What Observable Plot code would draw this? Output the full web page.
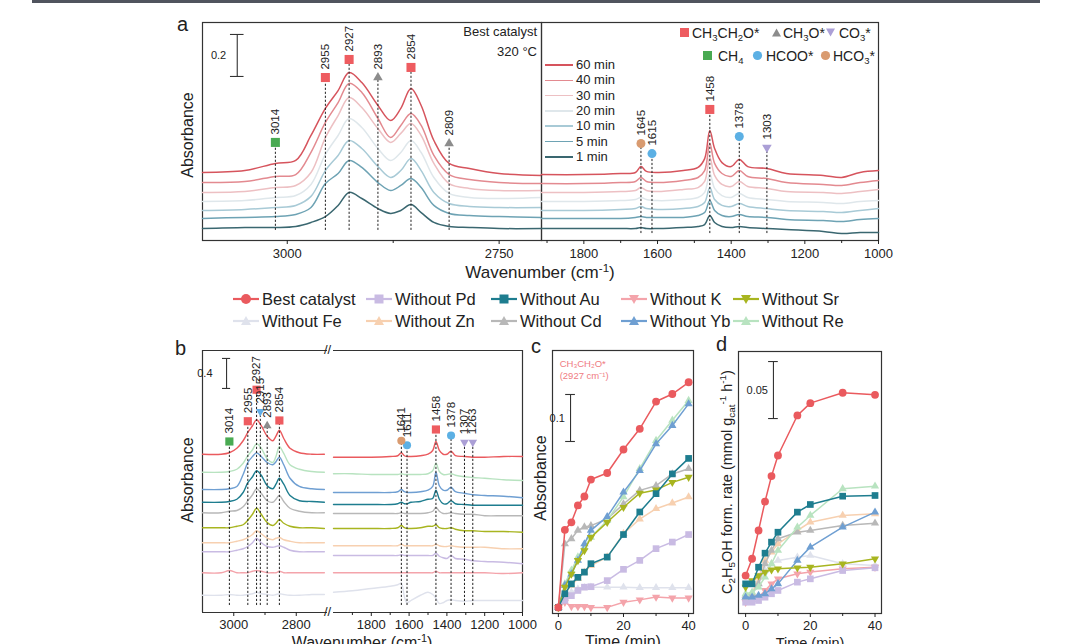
<!DOCTYPE html>
<html><head><meta charset="utf-8">
<script src="https://cdn.jsdelivr.net/npm/d3@7"></script>
<script src="https://cdn.jsdelivr.net/npm/@observablehq/plot@0.6"></script>
<style>
body{margin:0;background:#fff;font-family:"Liberation Sans",Arial,sans-serif;}
#root{position:relative;width:1080px;height:644px;overflow:hidden;background:#fff;}
.abs{position:absolute;white-space:nowrap;color:#222;line-height:1;}
sub{font-size:0.68em;vertical-align:-0.28em;line-height:0;}
sup{font-size:0.68em;vertical-align:0.55em;line-height:0;}
</style></head><body><div id="root"></div>
<script>
// ---------------- DATA ----------------
// Panel a: time series at 320 °C (best catalyst)
const timesA = ["60 min","40 min","30 min","20 min","10 min","5 min","1 min"];
const wnAL = [3100,3050,3014,2990,2972,2955,2940,2927,2912,2893,2878,2866,2854,2842,2827,2809,2785,2750,2700];
const aL60 = [0.324,0.333,0.367,0.381,0.500,0.629,0.714,0.800,0.752,0.643,0.571,0.629,0.724,0.643,0.476,0.367,0.343,0.319,0.310];
const aL40 = [0.276,0.281,0.305,0.314,0.420,0.562,0.657,0.748,0.705,0.581,0.490,0.548,0.605,0.548,0.405,0.314,0.290,0.276,0.271];
const aL30 = [0.229,0.233,0.252,0.262,0.324,0.490,0.595,0.681,0.633,0.533,0.467,0.510,0.557,0.500,0.367,0.271,0.248,0.238,0.238];
const aL20 = [0.186,0.190,0.205,0.214,0.267,0.410,0.500,0.581,0.538,0.438,0.381,0.419,0.476,0.419,0.300,0.224,0.205,0.200,0.205];
const aL10 = [0.143,0.148,0.157,0.167,0.210,0.333,0.405,0.476,0.438,0.352,0.300,0.333,0.390,0.333,0.229,0.176,0.162,0.157,0.157];
const aL5  = [0.105,0.110,0.114,0.124,0.157,0.271,0.319,0.381,0.348,0.276,0.238,0.262,0.295,0.252,0.167,0.129,0.119,0.114,0.110];
const aL1  = [0.057,0.062,0.062,0.067,0.086,0.114,0.167,0.229,0.200,0.152,0.129,0.143,0.171,0.133,0.086,0.067,0.062,0.057,0.057];
const wnAR = [1915,1800,1700,1660,1645,1630,1600,1530,1490,1472,1458,1445,1425,1400,1378,1355,1303,1250,1150,1100,1050,1000];
const aR60 = [0.314,0.314,0.319,0.324,0.352,0.329,0.324,0.333,0.348,0.390,0.524,0.438,0.371,0.352,0.386,0.352,0.343,0.319,0.310,0.300,0.324,0.333];
const aR40 = [0.271,0.271,0.276,0.281,0.300,0.281,0.276,0.286,0.300,0.333,0.462,0.367,0.319,0.305,0.333,0.305,0.295,0.276,0.267,0.262,0.276,0.286];
const aR30 = [0.229,0.229,0.233,0.238,0.252,0.238,0.233,0.243,0.252,0.281,0.395,0.310,0.267,0.257,0.281,0.257,0.248,0.233,0.229,0.224,0.233,0.243];
const aR20 = [0.186,0.186,0.190,0.195,0.205,0.195,0.190,0.195,0.205,0.229,0.319,0.248,0.214,0.205,0.224,0.205,0.195,0.186,0.181,0.176,0.186,0.190];
const aR10 = [0.143,0.143,0.148,0.152,0.162,0.152,0.148,0.152,0.162,0.181,0.252,0.195,0.167,0.162,0.176,0.162,0.152,0.143,0.138,0.133,0.143,0.152];
const aR5  = [0.105,0.105,0.105,0.110,0.114,0.110,0.110,0.110,0.119,0.133,0.190,0.143,0.119,0.114,0.124,0.114,0.110,0.100,0.095,0.090,0.100,0.105];
const aR1  = [0.057,0.057,0.057,0.057,0.062,0.057,0.057,0.062,0.067,0.076,0.119,0.086,0.067,0.062,0.067,0.062,0.057,0.052,0.043,0.033,0.038,0.038];
const peaksAL = [{wn:3014,sp:"CH4",level:0.467},{wn:2955,sp:"CH3CH2O",level:0.776},{wn:2927,sp:"CH3CH2O",level:0.862},{wn:2893,sp:"CH3O",level:0.776},{wn:2854,sp:"CH3CH2O",level:0.824},{wn:2809,sp:"CH3O",level:0.462}];
const peaksAR = [{wn:1645,sp:"HCO3",level:0.462},{wn:1615,sp:"HCOO",level:0.414},{wn:1458,sp:"CH3CH2O",level:0.624},{wn:1378,sp:"HCOO",level:0.495},{wn:1303,sp:"CO3",level:0.443}];

// Catalysts
const catalysts = ["Best catalyst","Without Pd","Without Au","Without K","Without Sr","Without Fe","Without Zn","Without Cd","Without Yb","Without Re"];

// Panel b: spectra of the catalysts (stacked)
const orderB = ["Best catalyst","Without Re","Without Yb","Without Au","Without Cd","Without Sr","Without Zn","Without Pd","Without K","Without Fe"];
const wnBL = [3100,3040,3014,2990,2970,2955,2940,2927,2912,2893,2875,2865,2854,2840,2820,2790,2750,2710];
const bL_Best = [2.11,2.11,2.13,2.19,2.29,2.40,2.49,2.57,2.49,2.35,2.29,2.35,2.43,2.32,2.19,2.13,2.11,2.11];
const bL_Re   = [1.87,1.87,1.88,1.91,1.99,2.09,2.17,2.25,2.19,2.05,2.00,2.08,2.21,2.12,1.97,1.91,1.88,1.87];
const bL_Yb   = [1.64,1.64,1.65,1.68,1.84,2.00,2.08,2.13,2.08,2.00,1.97,2.01,2.07,1.97,1.79,1.68,1.65,1.64];
const bL_Au   = [1.47,1.47,1.48,1.51,1.60,1.73,1.81,1.89,1.83,1.69,1.65,1.71,1.79,1.71,1.56,1.49,1.48,1.47];
const bL_Cd   = [1.33,1.33,1.35,1.36,1.41,1.49,1.57,1.65,1.59,1.49,1.47,1.51,1.56,1.48,1.39,1.35,1.33,1.33];
const bL_Sr   = [1.13,1.13,1.13,1.15,1.17,1.23,1.31,1.39,1.31,1.20,1.16,1.19,1.24,1.19,1.15,1.13,1.13,1.12];
const bL_Zn   = [0.93,0.93,0.93,0.95,0.97,1.00,1.04,1.09,1.05,0.99,0.97,0.99,1.00,0.97,0.95,0.93,0.93,0.93];
const bL_Pd   = [0.81,0.81,0.81,0.83,0.85,0.88,0.93,0.99,0.93,0.88,0.87,0.88,0.89,0.87,0.83,0.81,0.81,0.81];
const bL_K    = [0.53,0.53,0.56,0.53,0.53,0.53,0.55,0.56,0.55,0.53,0.53,0.53,0.55,0.53,0.53,0.53,0.53,0.53];
const bL_Fe   = [0.23,0.23,0.24,0.23,0.23,0.24,0.25,0.27,0.25,0.24,0.23,0.24,0.25,0.24,0.23,0.23,0.24,0.24];
const wnBR = [2000,1900,1800,1700,1660,1641,1625,1611,1590,1540,1500,1475,1458,1440,1420,1400,1378,1355,1307,1263,1200,1100,1000];
const bR_Best = [2.07,2.07,2.07,2.08,2.09,2.13,2.09,2.08,2.08,2.09,2.11,2.16,2.28,2.16,2.11,2.11,2.15,2.09,2.08,2.07,2.07,2.08,2.08];
const bR_Re   = [1.85,1.85,1.84,1.84,1.84,1.85,1.84,1.84,1.84,1.84,1.85,1.89,1.99,1.88,1.84,1.84,1.85,1.83,1.81,1.80,1.79,1.77,1.76];
const bR_Yb   = [1.60,1.60,1.60,1.60,1.61,1.64,1.61,1.60,1.60,1.61,1.63,1.68,1.87,1.69,1.63,1.63,1.67,1.61,1.59,1.57,1.56,1.55,1.53];
const bR_Au   = [1.44,1.44,1.44,1.44,1.45,1.47,1.45,1.45,1.47,1.48,1.51,1.52,1.63,1.51,1.45,1.45,1.49,1.45,1.44,1.43,1.43,1.43,1.43];
const bR_Cd   = [1.32,1.32,1.32,1.32,1.32,1.33,1.32,1.32,1.32,1.32,1.33,1.35,1.40,1.35,1.32,1.32,1.33,1.32,1.31,1.31,1.29,1.29,1.29];
const bR_Sr   = [1.12,1.12,1.12,1.12,1.13,1.16,1.13,1.12,1.12,1.13,1.15,1.15,1.17,1.13,1.12,1.12,1.13,1.11,1.09,1.09,1.08,1.08,1.07];
const bR_Zn   = [0.89,0.89,0.89,0.89,0.89,0.91,0.89,0.89,0.89,0.89,0.89,0.89,0.91,0.89,0.88,0.88,0.89,0.88,0.87,0.87,0.87,0.85,0.85];
const bR_Pd   = [0.76,0.76,0.76,0.76,0.76,0.77,0.76,0.76,0.76,0.76,0.76,0.76,0.79,0.75,0.73,0.72,0.76,0.72,0.71,0.69,0.68,0.67,0.65];
const bR_K    = [0.53,0.53,0.53,0.53,0.53,0.53,0.53,0.53,0.53,0.53,0.53,0.53,0.55,0.53,0.53,0.53,0.53,0.53,0.53,0.53,0.53,0.52,0.53];
const bR_Fe   = [0.27,0.29,0.32,0.35,0.37,0.39,0.21,0.13,0.16,0.23,0.27,0.24,0.19,0.12,0.13,0.16,0.17,0.16,0.15,0.16,0.16,0.16,0.16];
const peaksBL = [{wn:3014,sp:"CH4",level:2.28},{wn:2955,sp:"CH3CH2O",level:2.55},{wn:2927,sp:"CH3CH2O",level:2.97},{wn:2915,sp:"CO3b",level:2.68},{wn:2893,sp:"CH3O",level:2.49},{wn:2854,sp:"CH3CH2O",level:2.56}];
const peaksBR = [{wn:1641,sp:"HCO3",level:2.29},{wn:1611,sp:"HCOO",level:2.23},{wn:1458,sp:"CH3CH2O",level:2.44},{wn:1378,sp:"HCOO",level:2.36},{wn:1307,sp:"CO3",level:2.27},{wn:1263,sp:"CO3",level:2.27}];

// Panel c: CH3CH2O* absorbance (2927 cm-1) vs time
const tC = [0,2,4,6,8,10,15,20,25,30,35,40];
const cBest = [0.013,0.178,0.194,0.230,0.249,0.285,0.299,0.349,0.393,0.451,0.467,0.492];
const cPd   = [0.013,0.028,0.038,0.049,0.056,0.057,0.070,0.094,0.113,0.138,0.152,0.168];
const cAu   = [0.013,0.042,0.063,0.077,0.088,0.106,0.120,0.168,0.216,0.255,0.297,0.330];
const cK    = [0.013,0.024,0.015,0.015,0.015,0.013,0.013,0.024,0.029,0.035,0.033,0.033];
const cSr   = [0.013,0.056,0.084,0.113,0.134,0.162,0.194,0.226,0.256,0.263,0.279,0.290];
const cFe   = [0.013,0.035,0.045,0.052,0.055,0.056,0.056,0.056,0.055,0.055,0.055,0.055];
const cZn   = [0.013,0.042,0.060,0.074,0.088,0.102,0.120,0.170,0.201,0.223,0.235,0.248];
const cCd   = [0.013,0.148,0.159,0.177,0.184,0.187,0.201,0.233,0.262,0.272,0.297,0.308];
const cYb   = [0.013,0.060,0.084,0.113,0.148,0.177,0.206,0.258,0.304,0.361,0.400,0.446];
const cRe   = [0.013,0.063,0.092,0.120,0.141,0.162,0.198,0.248,0.308,0.368,0.411,0.453];

// Panel d: C2H5OH formation rate vs time
const tD = [0,2,4,6,8,10,16,20,30,40];
const dBest = [0.0333,0.0480,0.0728,0.0982,0.1205,0.1386,0.1737,0.1845,0.1936,0.1918];
const dPd   = [0.0099,0.0099,0.0114,0.0143,0.0173,0.0202,0.0275,0.0304,0.0377,0.0401];
const dAu   = [0.0260,0.0260,0.0406,0.0529,0.0626,0.0713,0.0889,0.0956,0.1029,0.1035];
const dK    = [0.0099,0.0114,0.0143,0.0202,0.0260,0.0304,0.0348,0.0363,0.0392,0.0406];
const dSr   = [0.0231,0.0289,0.0333,0.0363,0.0383,0.0392,0.0401,0.0406,0.0436,0.0480];
const dFe   = [0.0143,0.0173,0.0260,0.0377,0.0436,0.0465,0.0494,0.0509,0.0436,0.0421];
const dZn   = [0.0143,0.0173,0.0319,0.0465,0.0538,0.0611,0.0728,0.0801,0.0860,0.0874];
const dCd   = [0.0158,0.0173,0.0260,0.0436,0.0553,0.0655,0.0713,0.0728,0.0772,0.0792];
const dYb   = [0.0143,0.0143,0.0158,0.0173,0.0216,0.0260,0.0465,0.0582,0.0757,0.0889];
const dRe   = [0.0173,0.0187,0.0231,0.0319,0.0436,0.0553,0.0757,0.0860,0.1094,0.1117];

// ---------------- STYLE ----------------
const triDown = {draw(ctx, size){const a=Math.sqrt(size*4/Math.sqrt(3)),h=a*Math.sqrt(3)/2;ctx.moveTo(0,2*h/3);ctx.lineTo(-a/2,-h/3);ctx.lineTo(a/2,-h/3);ctx.closePath();}};
const timeColors = ["#d6545d","#e38a90","#edc0c3","#dfe7eb","#a8cad6","#6ea3b4","#3a6770"];
const CAT = {
  "Best catalyst":{color:"#ea5a5e",sym:"circle"},
  "Without Pd":{color:"#c9bbe3",sym:"square"},
  "Without Au":{color:"#1e7d8f",sym:"square"},
  "Without K":{color:"#f4a4ab",sym:triDown},
  "Without Sr":{color:"#a8b520",sym:triDown},
  "Without Fe":{color:"#dfe2ec",sym:"triangle"},
  "Without Zn":{color:"#f7d0b0",sym:"triangle"},
  "Without Cd":{color:"#b8b8b8",sym:"triangle"},
  "Without Yb":{color:"#6f9fd2",sym:"triangle"},
  "Without Re":{color:"#b8e3c0",sym:"triangle"}
};
const SP = {
  CH3CH2O:{fill:"#ee5c60",sym:"square",k:1},
  CH3O:{fill:"#8c8c8c",sym:"triangle",k:0.7},
  CO3:{fill:"#ab9fd6",sym:triDown,k:0.7},
  CO3b:{fill:"#64aee6",sym:triDown,k:0.7},
  CH4:{fill:"#49aa52",sym:"square",k:1},
  HCOO:{fill:"#5cb0e4",sym:"circle",k:0.88},
  HCO3:{fill:"#d99b70",sym:"circle",k:0.88}
};
const FONT = "'Liberation Sans', Arial, sans-serif";
const fmtWn = d3.format("d");
const root = document.getElementById("root");

function rows(xs, ys){ return xs.map((x,i)=>({x, y:ys[i]})); }
function put(node, x, y){ node.style.position="absolute"; node.style.left=x+"px"; node.style.top=y+"px"; root.appendChild(node); }
function label(html, x, y, size, o={}){
  const d=document.createElement("div"); d.className="abs"; d.innerHTML=html;
  d.style.left=x+"px"; d.style.top=y+"px"; d.style.fontSize=size+"px";
  let tr="";
  if(o.anchor==="middle") tr="translate(-50%,0)";
  if(o.anchor==="end") tr="translate(-100%,0)";
  if(o.rotate) tr="translate(-50%,-50%) rotate(-90deg)";
  d.style.transform=tr;
  if(o.color) d.style.color=o.color;
  root.appendChild(d); return d;
}
function panel(fx, fy, fw, fh, xOpt, yDom, marks){
  const M=16, MB=34;
  const svg = Plot.plot({
    width: fw+2*M, height: fh+M+MB, marginLeft:M, marginRight:M, marginTop:M, marginBottom:MB,
    x: xOpt, y: {domain:yDom, axis:null},
    style: {fontFamily:FONT, fontSize:"12.5px", color:"#222", background:"transparent", overflow:"visible"},
    marks
  });
  put(svg, fx-M, fy-M);
}
function peakMarks(peaks, base, r){
  const out=[Plot.ruleX(peaks,{x:"wn", y1:()=>base, y2:"level", stroke:"#222", strokeWidth:1, strokeDasharray:"2.2,1.8"})];
  for(const [k,st] of Object.entries(SP)){
    const sel=peaks.filter(p=>p.sp===k);
    if(sel.length) out.push(Plot.dot(sel,{x:"wn", y:"level", symbol:st.sym, r:r*st.k, fill:st.fill, stroke:"none"}));
  }
  out.push(Plot.text(peaks,{x:"wn", y:"level", text:d=>String(d.wn), rotate:-90, textAnchor:"start", dy:-8, fontSize:11.5, fill:"#222"}));
  return out;
}
function scaleBar(x, y1, y2, capHalf, txt, tx){
  return [
    Plot.ruleX([x],{y1:()=>y1, y2:()=>y2, stroke:"#333", strokeWidth:1.1}),
    Plot.ruleY([y1,y2],{x1:()=>x-capHalf, x2:()=>x+capHalf, stroke:"#333", strokeWidth:1.1}),
    Plot.text([txt],{x:()=>tx, y:()=>(y1+y2)/2, text:d=>d, textAnchor:"end", fontSize:11, fill:"#222"})
  ];
}

// top rule
const topLine=document.createElement("div");
Object.assign(topLine.style,{position:"absolute",left:"32px",top:"0px",width:"1008px",height:"3px",background:"#50545e"});
root.appendChild(topLine);

// ---------------- PANEL a ----------------
const aLeftSeries=[aL60,aL40,aL30,aL20,aL10,aL5,aL1];
const aRightSeries=[aR60,aR40,aR30,aR20,aR10,aR5,aR1];
const yDomA=[0,1.038];
panel(202,22,339,218,{domain:[3100,2700]},yDomA,[
  Plot.frame({stroke:"#333",strokeWidth:1.2}),
  Plot.axisX({ticks:[3000,2750],tickSize:4,tickPadding:4,tickFormat:fmtWn,fontSize:13,label:null}),
  Plot.axisX({ticks:[2875],tickSize:3,tickFormat:()=>"",label:null}),
  ...aLeftSeries.map((s,i)=>Plot.line(rows(wnAL,s),{x:"x",y:"y",stroke:timeColors[i],strokeWidth:1.5,curve:"catmull-rom"})).reverse(),
  ...peakMarks(peaksAL,0.048,5.1),
  ...scaleBar(3059,0.781,0.981,8,"0.2",3072)
]);
panel(541,22,337,218,{domain:[1915,1000]},yDomA,[
  Plot.frame({stroke:"#333",strokeWidth:1.2}),
  Plot.axisX({ticks:[1800,1600,1400,1200,1000],tickSize:4,tickPadding:4,tickFormat:fmtWn,fontSize:13,label:null}),
  Plot.axisX({ticks:[1900,1700,1500,1300,1100],tickSize:3,tickFormat:()=>"",label:null}),
  ...aRightSeries.map((s,i)=>Plot.line(rows(wnAR,s),{x:"x",y:"y",stroke:timeColors[i],strokeWidth:1.5,curve:"catmull-rom"})).reverse(),
  ...peakMarks(peaksAR,0.033,5.1)
]);
label("a",177,14,20);
label("Absorbance",188,135,16,{rotate:true});
label("Wavenumber (cm<sup>-1</sup>)",540,264,17,{anchor:"middle"});
label("Best catalyst",537,25,13,{anchor:"end"});
label("320 °C",537,45,13,{anchor:"end"});
// time legend
timesA.forEach((t,i)=>{
  const y=65+i*15.3;
  const ln=document.createElement("div");
  Object.assign(ln.style,{position:"absolute",left:"545px",top:(y-0.75)+"px",width:"28px",height:"1.5px",background:timeColors[i]});
  root.appendChild(ln);
  label(t,576,y-7,13);
});
// species legend
function spSVG(st){
  const c=st.fill; let s;
  if(st.sym==="square") s=`<rect x="1" y="1" width="9" height="9" fill="${c}"/>`;
  else if(st.sym==="circle") s=`<circle cx="5.5" cy="5.5" r="4.6" fill="${c}"/>`;
  else if(st.sym==="triangle") s=`<polygon points="5.5,1.5 10,9.5 1,9.5" fill="${c}"/>`;
  else s=`<polygon points="1,1.5 10,1.5 5.5,9.5" fill="${c}"/>`;
  return `<svg width="11" height="11" style="display:block">${s}</svg>`;
}
const spLegend=[
  ["CH3CH2O","CH<sub>3</sub>CH<sub>2</sub>O*",679,27,692],
  ["CH3O","CH<sub>3</sub>O*",771,27,783],
  ["CO3","CO<sub>3</sub>*",825,27,839],
  ["CH4","CH<sub>4</sub>",702,50,718],
  ["HCOO","HCOO*",752,50,766],
  ["HCO3","HCO<sub>3</sub>*",820,50,833]
];
spLegend.forEach(([k,html,mx,my,tx])=>{
  const d=document.createElement("div"); d.innerHTML=spSVG(SP[k]);
  Object.assign(d.style,{position:"absolute",left:mx+"px",top:my+"px"}); root.appendChild(d);
  label(html,tx,my-1.5,14);
});

// ---------------- middle legend ----------------
function catSVG(name){
  const st=CAT[name], c=st.color; let s;
  if(st.sym==="circle") s=`<circle cx="13" cy="7" r="5" fill="${c}"/>`;
  else if(st.sym==="square") s=`<rect x="8.5" y="2.5" width="9" height="9" fill="${c}"/>`;
  else if(st.sym==="triangle") s=`<polygon points="13,2 18,11 8,11" fill="${c}"/>`;
  else s=`<polygon points="8,3 18,3 13,12" fill="${c}"/>`;
  return `<svg width="26" height="14" style="display:block"><line x1="0" y1="7" x2="26" y2="7" stroke="${c}" stroke-width="2.2"/>${s}</svg>`;
}
const legCols=[262,395,520,650,762];
catalysts.forEach((n,i)=>{
  const col=i%5,row=Math.floor(i/5);
  const x=legCols[col], y=299+row*22;
  const d=document.createElement("div"); d.innerHTML=catSVG(n);
  Object.assign(d.style,{position:"absolute",left:(x-29)+"px",top:(y-7)+"px"}); root.appendChild(d);
  label(n,x,y-8.5,16.5);
});

// ---------------- PANEL b ----------------
const yDomB=[0,3.493];
const bLeft={"Best catalyst":bL_Best,"Without Re":bL_Re,"Without Yb":bL_Yb,"Without Au":bL_Au,"Without Cd":bL_Cd,"Without Sr":bL_Sr,"Without Zn":bL_Zn,"Without Pd":bL_Pd,"Without K":bL_K,"Without Fe":bL_Fe};
const bRight={"Best catalyst":bR_Best,"Without Re":bR_Re,"Without Yb":bR_Yb,"Without Au":bR_Au,"Without Cd":bR_Cd,"Without Sr":bR_Sr,"Without Zn":bR_Zn,"Without Pd":bR_Pd,"Without K":bR_K,"Without Fe":bR_Fe};
panel(202,350,125,262,{domain:[3100,2700]},yDomB,[
  Plot.ruleX([3100],{stroke:"#333",strokeWidth:1.2}),
  Plot.ruleY(yDomB,{stroke:"#333",strokeWidth:1.2}),
  Plot.axisX({ticks:[3000,2800],tickSize:4,tickPadding:3,tickFormat:fmtWn,fontSize:13,label:null}),
  Plot.axisX({ticks:[2900],tickSize:3,tickFormat:()=>"",label:null}),
  ...orderB.slice().reverse().map(n=>Plot.line(rows(wnBL,bLeft[n]),{x:"x",y:"y",stroke:CAT[n].color,strokeWidth:1.4,curve:"catmull-rom"})),
  ...peakMarks(peaksBL,0.093,4.6),
  ...scaleBar(3023,2.987,3.387,13,"0.4",3068)
]);
panel(333,350,189,262,{domain:[2000,1000]},yDomB,[
  Plot.ruleX([1000],{stroke:"#333",strokeWidth:1.2}),
  Plot.ruleY(yDomB,{stroke:"#333",strokeWidth:1.2}),
  Plot.axisX({ticks:[1800,1600,1400,1200,1000],tickSize:4,tickPadding:3,tickFormat:fmtWn,fontSize:13,label:null}),
  Plot.axisX({ticks:[1900,1700,1500,1300,1100],tickSize:3,tickFormat:()=>"",label:null}),
  ...orderB.slice().reverse().map(n=>Plot.line(rows(wnBR,bRight[n]),{x:"x",y:"y",stroke:CAT[n].color,strokeWidth:1.4,curve:"catmull-rom"})),
  ...peakMarks(peaksBR,0.093,4.6)
]);
label("//",324,343,13);
label("//",324,605,13);
label("b",175,338,20);
label("Absorbance",188,480,16,{rotate:true});
label("Wavenumber (cm<sup>-1</sup>)",362,635,16,{anchor:"middle"});

// ---------------- PANEL c ----------------
const cData={"Best catalyst":cBest,"Without Pd":cPd,"Without Au":cAu,"Without K":cK,"Without Sr":cSr,"Without Fe":cFe,"Without Zn":cZn,"Without Cd":cCd,"Without Yb":cYb,"Without Re":cRe};
const drawOrder=["Without Fe","Without K","Without Pd","Without Zn","Without Cd","Without Re","Without Yb","Without Sr","Without Au","Best catalyst"];
function seriesMarks(ts, data){
  const out=[];
  for(const n of drawOrder){
    const st=CAT[n], rr=rows(ts,data[n]);
    out.push(Plot.line(rr,{x:"x",y:"y",stroke:st.color,strokeWidth:1.5}));
    const r = st.sym==="circle"?3.9:(st.sym==="square"?2.6:2.1);
    out.push(Plot.dot(rr,{x:"x",y:"y",symbol:st.sym,r:r*(st.sym==="circle"?1:1.45),fill:st.color,stroke:"none"}));
  }
  return out;
}
panel(552,350,141,263,{domain:[-1.8,41.5]},[0,0.5596],[
  Plot.frame({stroke:"#333",strokeWidth:1.2}),
  Plot.axisX({ticks:[0,20,40],tickSize:4,tickPadding:3,fontSize:13,label:null}),
  Plot.axisX({ticks:[10,30],tickSize:3,tickFormat:()=>"",label:null}),
  ...seriesMarks(tC,cData),
  ...scaleBar(3.74,0.366,0.466,1.5,"0.1",2.0),
  Plot.text(["CH₃CH₂O*"],{x:()=>0.4,y:()=>0.532,text:d=>d,textAnchor:"start",fontSize:9.5,fill:"#ef7b82"}),
  Plot.text(["(2927 cm⁻¹)"],{x:()=>0.4,y:()=>0.505,text:d=>d,textAnchor:"start",fontSize:9.5,fill:"#ef7b82"})
]);
label("c",531,336,20);
label("Absorbance",541,478,16,{rotate:true});
label("Time (min)",623,634,16,{anchor:"middle"});

// ---------------- PANEL d ----------------
const dData={"Best catalyst":dBest,"Without Pd":dPd,"Without Au":dAu,"Without K":dK,"Without Sr":dSr,"Without Fe":dFe,"Without Zn":dZn,"Without Cd":dCd,"Without Yb":dYb,"Without Re":dRe};
panel(738,351,143,262,{domain:[-2.2,42]},[0,0.2298],[
  Plot.frame({stroke:"#333",strokeWidth:1.2}),
  Plot.axisX({ticks:[0,20,40],tickSize:4,tickPadding:3,fontSize:13,label:null}),
  Plot.axisX({ticks:[10,30],tickSize:3,tickFormat:()=>"",label:null}),
  ...seriesMarks(tD,dData),
  ...scaleBar(8.6,0.171,0.221,1.5,"0.05",6.9)
]);
label("d",716,334,20);
label("C<sub>2</sub>H<sub>5</sub>OH form. rate (mmol g<sub>cat</sub><sup>-1</sup> h<sup>-1</sup>)",727,482,14.5,{rotate:true});
label("Time (min)",810,636,14.5,{anchor:"middle"});
</script></body></html>
